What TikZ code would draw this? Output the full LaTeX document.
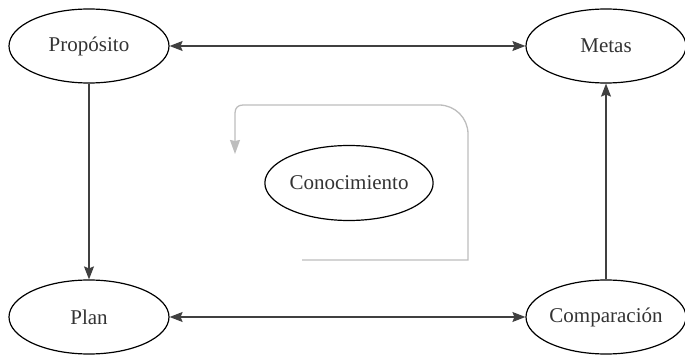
\documentclass[tikz,border=0pt]{standalone}
\usepackage{fontspec}
\setmainfont{Liberation Serif}
\usetikzlibrary{arrows.meta,shapes.geometric}
\definecolor{linegray}{gray}{0.25}
\definecolor{loopgray}{gray}{0.74}
\begin{document}
\begin{tikzpicture}[x=1pt,y=-1pt,
  oval/.style={ellipse, draw=black, line width=1.2pt, minimum width=160pt, minimum height=74pt, inner sep=0pt, font=\fontsize{21}{24}\selectfont, text=black!80},
  conn/.style={draw=linegray, line width=1.2pt},
  tip/.style={-{Stealth[length=13pt,width=10pt,inset=2pt]}},
  tips/.style={{Stealth[length=13pt,width=10pt,inset=2pt]}-{Stealth[length=13pt,width=10pt,inset=2pt]}},
  loop/.style={draw=loopgray, line width=1.3pt}]
\useasboundingbox (0,0) rectangle (685,355);
\node[oval] (prop) at (89,46) {Propósito};
\node[oval] (metas) at (606,46) {Metas};
\node[oval] (plan) at (89,317) {Plan};
\node[oval] (comp) at (606,317) {Comparación};
\node[oval, minimum width=162pt, minimum height=75pt] (con) at (349,183) {Conocimiento};
\draw[conn,tips] (prop) -- (metas);
\draw[conn,tips] (plan) -- (comp);
\draw[conn,tip] (prop) -- (plan);
\draw[conn,tip] (comp.north) -- (metas.south);
\coordinate (g0) at (302,260);
\coordinate (g1) at (468,260);
\coordinate (g2) at (468,134);
\coordinate (gc1a) at (468,118);
\coordinate (gc1b) at (455,105);
\coordinate (g3) at (439,105);
\coordinate (g4) at (243,105);
\coordinate (gc2a) at (238,105);
\coordinate (gc2b) at (235,108);
\coordinate (g5) at (235,113);
\coordinate (g6) at (235,154);
\draw[loop,-{Stealth[length=14pt,width=10pt,inset=1pt]}] (g0) -- (g1) -- (g2) .. controls (gc1a) and (gc1b) .. (g3) -- (g4) .. controls (gc2a) and (gc2b) .. (g5) -- (g6);
\end{tikzpicture}
\end{document}
